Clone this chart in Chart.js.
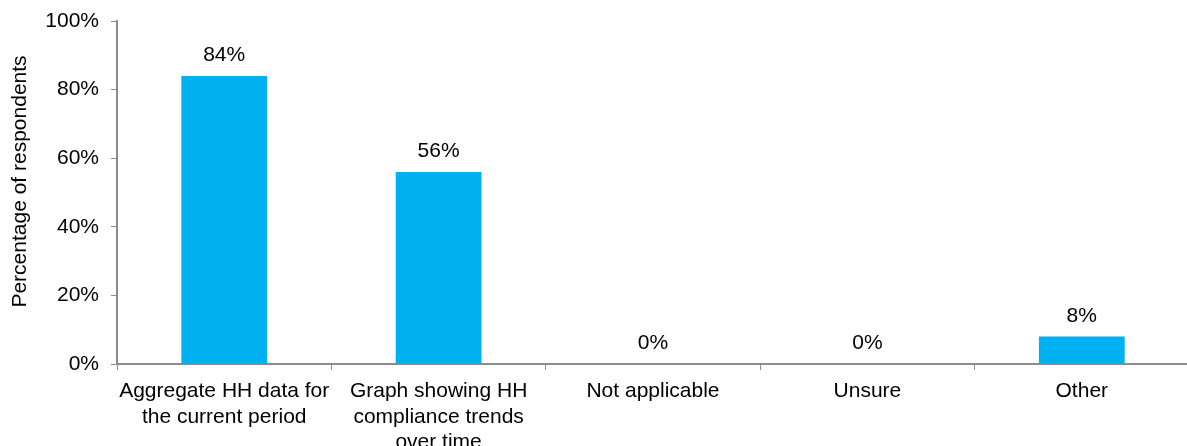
<!DOCTYPE html>
<html>
<head>
<meta charset="utf-8">
<script src="https://cdn.jsdelivr.net/npm/chart.js@4"></script>
<style>
  html, body { margin: 0; padding: 0; background: #fff; overflow: hidden; }
  #wrap { width: 1190px; height: 446px; }
</style>
</head>
<body>
<div id="wrap"><canvas id="chartHH"></canvas></div>
<script>
var categories = [
  ["Aggregate HH data for", "the current period"],
  ["Graph showing HH", "compliance trends", "over time"],
  "Not applicable",
  "Unsure",
  "Other"
];
var respondents = [84, 56, 0, 0, 8];
var yTicks = [0, 20, 40, 60, 80, 100];
var yTitle = 'Percentage of respondents';

var FONT = "'Liberation Sans', Arial, sans-serif";
var AXIS = "#8c8c8c";

// writes the percentage above each bar, plus the rotated y title
var valueLabels = {
  id: 'valueLabels',
  afterDatasetsDraw: function (chart) {
    var ctx = chart.ctx;
    var meta = chart.getDatasetMeta(0);
    ctx.save();
    ctx.font = "21px " + FONT;
    ctx.fillStyle = "#000";
    ctx.textAlign = "center";
    ctx.textBaseline = "alphabetic";
    meta.data.forEach(function (bar, i) {
      ctx.fillText(respondents[i] + "%", bar.x, bar.y - 15);
    });

    // title sits a little above the middle of the axis
    var area = chart.chartArea;
    ctx.translate(20, (area.top + area.bottom) / 2 - 11);
    ctx.rotate(-Math.PI / 2);
    ctx.textBaseline = "middle";
    ctx.fillText(yTitle, 0, 0);
    ctx.restore();
  }
};

var hhCanvas = document.getElementById("chartHH");

var barChart = new Chart(hhCanvas, {
  type: 'bar',
  data: {
    labels: categories,
    datasets: [{
      label: yTitle,
      data: respondents,
      backgroundColor: '#00b0f0',
      borderWidth: 0,
      categoryPercentage: 0.4,
      barPercentage: 1
    }]
  },
  options: {
    responsive: true,
    maintainAspectRatio: false,
    animation: false,
    layout: { padding: { top: 21, right: 1, left: 0, bottom: 0 } },
    plugins: {
      legend: { display: false },
      tooltip: { enabled: false }
    },
    scales: {
      x: {
        grid: {
          drawOnChartArea: false,
          drawTicks: true,
          tickLength: 6,
          color: AXIS,
          offset: true
        },
        border: { color: AXIS, width: 2 },
        ticks: {
          color: '#000',
          font: { family: FONT, size: 21, lineHeight: 1.2 },
          padding: 9,
          maxRotation: 0,
          autoSkip: false
        },
        afterFit: function (scale) { scale.height = 82; }
      },
      y: {
        min: 0,
        max: 100,
        afterBuildTicks: function (scale) {
          scale.ticks = yTicks.map(function (v) { return { value: v }; });
        },
        grid: {
          drawOnChartArea: false,
          drawTicks: true,
          tickLength: 6,
          color: AXIS
        },
        border: { color: AXIS, width: 2 },
        ticks: {
          color: '#000',
          font: { family: FONT, size: 21 },
          padding: 12,
          callback: function (v) { return v + '%'; }
        },
        afterFit: function (scale) {
          scale.width = 117;
          scale.paddingTop = 0;
          scale.paddingBottom = 0;
        }
      }
    }
  },
  plugins: [valueLabels]
});
</script>
</body>
</html>
